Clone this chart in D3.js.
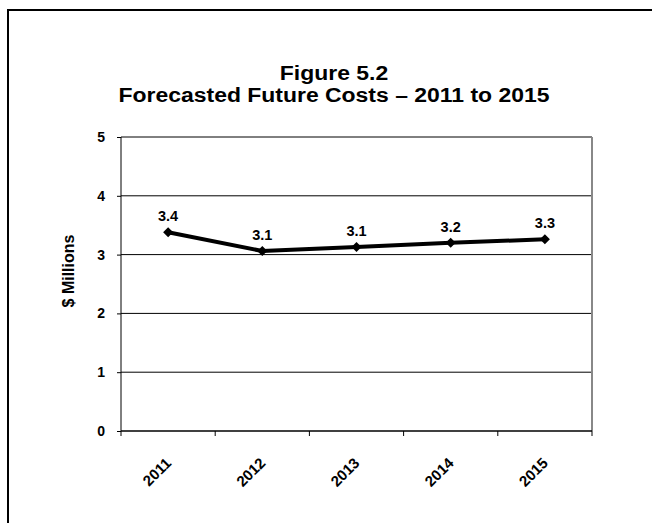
<!DOCTYPE html>
<html>
<head>
<meta charset="utf-8">
<script src="https://cdn.jsdelivr.net/npm/d3@7"></script>
<style>
  html, body { margin: 0; padding: 0; background: #fff; }
  svg { display: block; font-family: "Liberation Sans", Arial, sans-serif; }
</style>
</head>
<body>
<div id="chart"></div>
<script>
// Forecasted future costs, $ millions
const years = ["2011", "2012", "2013", "2014", "2015"];
const costs = [3.38, 3.06, 3.13, 3.20, 3.26];
const yTicks = [0, 1, 2, 3, 4, 5];
const titleLines = ["Figure 5.2", "Forecasted Future Costs \u2013 2011 to 2015"];
const yTitle = "$ Millions";

const W = 652, H = 523;
const plot = { left: 121, right: 592, top: 137, bottom: 431 };

const svg = d3.select("#chart").append("svg")
  .attr("width", W).attr("height", H);

// outer frame (runs off the right and bottom edges)
svg.append("rect")
  .attr("x", 8).attr("y", 10)
  .attr("width", 660).attr("height", 530)
  .attr("fill", "none").attr("stroke", "#000").attr("stroke-width", 2);

// title, set slightly wide
svg.append("g").selectAll("text").data(titleLines).join("text")
  .attr("transform", (d, i) => `translate(334,${80 + i * 22}) scale(1.12,1)`)
  .attr("text-anchor", "middle")
  .attr("font-size", 20.5).attr("font-weight", "bold")
  .text(d => d);

const x = d3.scaleBand().domain(years).range([plot.left, plot.right]);
const y = d3.scaleLinear().domain([0, 5]).range([plot.bottom, plot.top]);

// horizontal gridlines
svg.append("g").selectAll("line").data(yTicks.filter(d => d > 0)).join("line")
  .attr("x1", plot.left).attr("x2", plot.right)
  .attr("y1", d => y(d)).attr("y2", d => y(d))
  .attr("stroke", "#000").attr("stroke-width", 1);

// right edge of plot area
svg.append("line")
  .attr("x1", plot.right).attr("x2", plot.right)
  .attr("y1", plot.top).attr("y2", plot.bottom)
  .attr("stroke", "#888").attr("stroke-width", 2);

// y axis
const yAxis = svg.append("g")
  .attr("transform", `translate(${plot.left},0)`)
  .call(d3.axisLeft(y).tickValues(yTicks).tickFormat(d3.format("d"))
    .tickSize(4).tickPadding(12));
yAxis.select(".domain").attr("stroke", "#000").attr("d", `M0,${plot.top}V${plot.bottom}`);
yAxis.selectAll(".tick line").attr("stroke", "#000");
yAxis.selectAll(".tick text")
  .attr("font-size", 14).attr("font-weight", "bold")
  .attr("font-family", "Liberation Sans, Arial, sans-serif").attr("fill", "#000");

// x axis: baseline with ticks on category boundaries
const xAxis = svg.append("g").attr("transform", `translate(0,${plot.bottom})`);
xAxis.append("line")
  .attr("x1", plot.left).attr("x2", plot.right)
  .attr("stroke", "#000").attr("stroke-width", 1.5);
const bounds = years.map(d => x(d)).concat([x.range()[1]]);
xAxis.selectAll("line.tk").data(bounds).join("line")
  .attr("class", "tk")
  .attr("x1", d => d).attr("x2", d => d)
  .attr("y1", 0).attr("y2", 5)
  .attr("stroke", "#000");
xAxis.selectAll("text").data(years).join("text")
  .attr("transform", d => `translate(${x(d) + x.bandwidth() / 2 + 4},${33}) rotate(-45)`)
  .attr("text-anchor", "end")
  .attr("font-size", 15).attr("font-weight", "bold")
  .text(d => d);

// y axis title
svg.append("text")
  .attr("transform", `translate(74,271) rotate(-90)`)
  .attr("text-anchor", "middle")
  .attr("font-size", 16).attr("font-weight", "bold")
  .text(yTitle);

// cost line
const cx = d => x(d) + x.bandwidth() / 2;
const pts = years.map((d, i) => ({ year: d, v: costs[i] }));
svg.append("path").datum(pts)
  .attr("fill", "none").attr("stroke", "#000").attr("stroke-width", 4)
  .attr("stroke-linejoin", "round")
  .attr("d", d3.line().x(d => cx(d.year)).y(d => y(d.v)));

// diamond markers
svg.append("g").selectAll("path").data(pts).join("path")
  .attr("transform", d => `translate(${cx(d.year)},${y(d.v)}) rotate(45)`)
  .attr("d", d3.symbol(d3.symbolSquare, 50))
  .attr("fill", "#000");

// value labels
svg.append("g").selectAll("text").data(pts).join("text")
  .attr("x", d => cx(d.year))
  .attr("y", d => y(d.v) - 11)
  .attr("text-anchor", "middle")
  .attr("font-size", 14.5).attr("font-weight", "bold")
  .text(d => d3.format(".1f")(d.v));
</script>
</body>
</html>
